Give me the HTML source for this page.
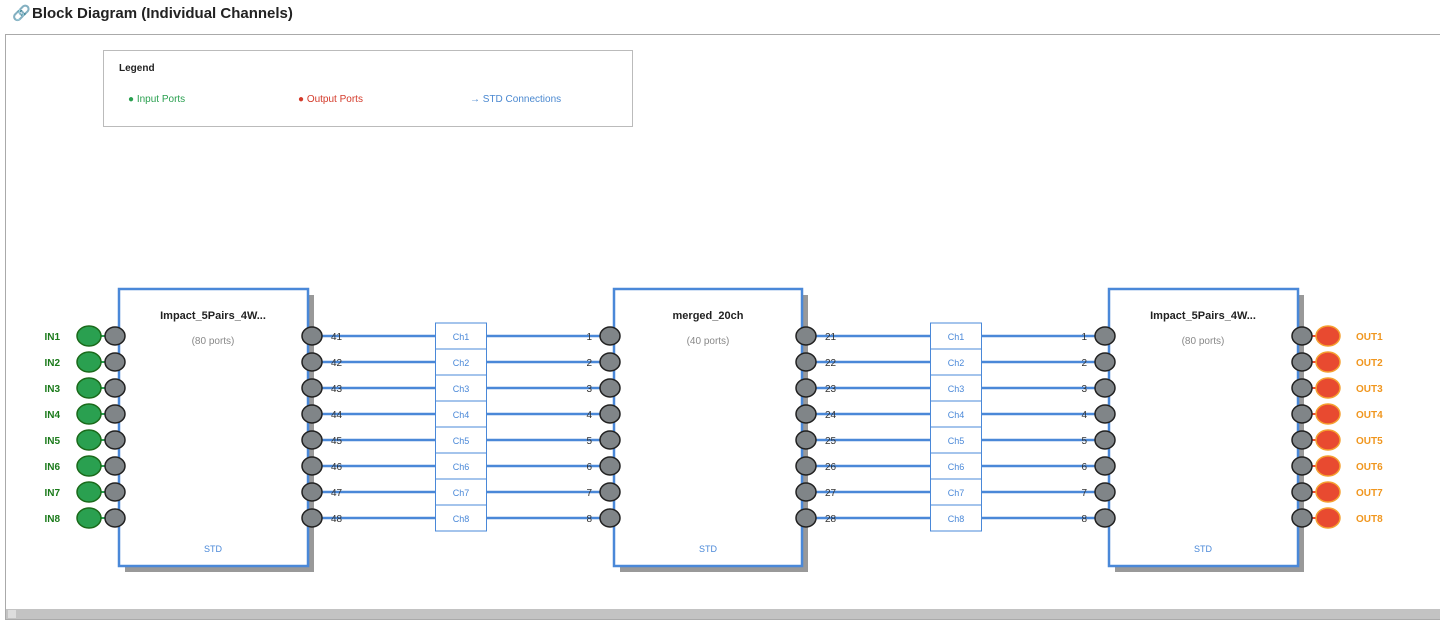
<!DOCTYPE html>
<html><head><meta charset="utf-8"><style>
body{margin:0;background:#fff;font-family:"Liberation Sans",sans-serif;}
</style></head><body>
<svg width="1440" height="622" xmlns="http://www.w3.org/2000/svg" font-family="Liberation Sans, sans-serif">
<text x="12" y="18" font-size="15" font-weight="bold" fill="#222">🔗</text>
<text x="32" y="18" font-size="15" font-weight="bold" fill="#222">Block Diagram (Individual Channels)</text>
<rect x="5.5" y="34.5" width="1440" height="585" fill="#fff" stroke="#aaa"/>
<rect x="6" y="609" width="1434" height="10" fill="#c3c3c3"/>
<rect x="8" y="610" width="8" height="8" fill="#ddd"/>
<rect x="103.5" y="50.5" width="529" height="76" fill="#fff" stroke="#bbb"/>
<text x="119" y="71" font-size="10" font-weight="bold" fill="#222">Legend</text>
<text x="128" y="102" font-size="10" fill="#2aa050">● Input Ports</text>
<text x="298" y="102" font-size="10" fill="#d43a2a">● Output Ports</text>
<text x="470" y="102" font-size="10" fill="#4a88d0">→ STD Connections</text>
<g id="b">
<rect x="125" y="295" width="189" height="277" fill="#999"/>
<rect x="119" y="289" width="189" height="277" fill="#fff" stroke="#4a88d8" stroke-width="2.5"/>
<rect x="620" y="295" width="188" height="277" fill="#999"/>
<rect x="614" y="289" width="188" height="277" fill="#fff" stroke="#4a88d8" stroke-width="2.5"/>
<rect x="1115" y="295" width="189" height="277" fill="#999"/>
<rect x="1109" y="289" width="189" height="277" fill="#fff" stroke="#4a88d8" stroke-width="2.5"/>
</g>
<g font-size="11" font-weight="bold" fill="#222" text-anchor="middle">
<text x="213" y="319">Impact_5Pairs_4W...</text>
<text x="708" y="319">merged_20ch</text>
<text x="1203" y="319">Impact_5Pairs_4W...</text>
</g>
<g font-size="10" fill="#888" text-anchor="middle">
<text x="213" y="344">(80 ports)</text><text x="708" y="344">(40 ports)</text><text x="1203" y="344">(80 ports)</text>
</g>
<g font-size="9" fill="#4a88d8" text-anchor="middle">
<text x="213" y="552">STD</text><text x="708" y="552">STD</text><text x="1203" y="552">STD</text>
</g>
<defs>
<g id="row">
<line x1="312" y1="0" x2="605" y2="0" stroke="#4a88d8" stroke-width="2.5"/>
<line x1="806" y1="0" x2="1100" y2="0" stroke="#4a88d8" stroke-width="2.5"/>
<line x1="101" y1="0" x2="115" y2="0" stroke="#2aa050" stroke-width="2"/>
<line x1="1302" y1="0" x2="1316" y2="0" stroke="#e84a30" stroke-width="2"/>
<ellipse cx="89" cy="0" rx="12" ry="10" fill="#2aa050" stroke="#1a6a1a" stroke-width="1.5"/>
<ellipse cx="1328" cy="0" rx="12" ry="10" fill="#e84a30" stroke="#f5a030" stroke-width="1.5"/>
<ellipse cx="115" cy="0" rx="10" ry="9" fill="#808588" stroke="#222" stroke-width="1.5"/>
<ellipse cx="312" cy="0" rx="10" ry="9" fill="#808588" stroke="#222" stroke-width="1.5"/>
<ellipse cx="610" cy="0" rx="10" ry="9" fill="#808588" stroke="#222" stroke-width="1.5"/>
<ellipse cx="806" cy="0" rx="10" ry="9" fill="#808588" stroke="#222" stroke-width="1.5"/>
<ellipse cx="1105" cy="0" rx="10" ry="9" fill="#808588" stroke="#222" stroke-width="1.5"/>
<ellipse cx="1302" cy="0" rx="10" ry="9" fill="#808588" stroke="#222" stroke-width="1.5"/>
<rect x="435.5" y="-13" width="51" height="26" fill="#fff" stroke="#4a88d8"/>
<rect x="930.5" y="-13" width="51" height="26" fill="#fff" stroke="#4a88d8"/>
</g>
</defs>
<use href="#row" y="336"/><use href="#row" y="362"/><use href="#row" y="388"/><use href="#row" y="414"/>
<use href="#row" y="440"/><use href="#row" y="466"/><use href="#row" y="492"/><use href="#row" y="518"/>
<g font-size="9" fill="#4a88d8" text-anchor="middle">
<text x="461" y="340">Ch1</text><text x="461" y="366">Ch2</text><text x="461" y="392">Ch3</text><text x="461" y="418">Ch4</text>
<text x="461" y="444">Ch5</text><text x="461" y="470">Ch6</text><text x="461" y="496">Ch7</text><text x="461" y="522">Ch8</text>
<text x="956" y="340">Ch1</text><text x="956" y="366">Ch2</text><text x="956" y="392">Ch3</text><text x="956" y="418">Ch4</text>
<text x="956" y="444">Ch5</text><text x="956" y="470">Ch6</text><text x="956" y="496">Ch7</text><text x="956" y="522">Ch8</text>
</g>
<g font-size="10" fill="#333">
<text x="331" y="340">41</text><text x="331" y="366">42</text><text x="331" y="392">43</text><text x="331" y="418">44</text>
<text x="331" y="444">45</text><text x="331" y="470">46</text><text x="331" y="496">47</text><text x="331" y="522">48</text>
<text x="825" y="340">21</text><text x="825" y="366">22</text><text x="825" y="392">23</text><text x="825" y="418">24</text>
<text x="825" y="444">25</text><text x="825" y="470">26</text><text x="825" y="496">27</text><text x="825" y="522">28</text>
</g>
<g font-size="10" fill="#333" text-anchor="end">
<text x="592" y="340">1</text><text x="592" y="366">2</text><text x="592" y="392">3</text><text x="592" y="418">4</text>
<text x="592" y="444">5</text><text x="592" y="470">6</text><text x="592" y="496">7</text><text x="592" y="522">8</text>
<text x="1087" y="340">1</text><text x="1087" y="366">2</text><text x="1087" y="392">3</text><text x="1087" y="418">4</text>
<text x="1087" y="444">5</text><text x="1087" y="470">6</text><text x="1087" y="496">7</text><text x="1087" y="522">8</text>
</g>
<g font-size="10" font-weight="bold" fill="#1a7a1a" text-anchor="end">
<text x="60" y="340">IN1</text><text x="60" y="366">IN2</text><text x="60" y="392">IN3</text><text x="60" y="418">IN4</text>
<text x="60" y="444">IN5</text><text x="60" y="470">IN6</text><text x="60" y="496">IN7</text><text x="60" y="522">IN8</text>
</g>
<g font-size="10" font-weight="bold" fill="#f0961e">
<text x="1356" y="340">OUT1</text><text x="1356" y="366">OUT2</text><text x="1356" y="392">OUT3</text><text x="1356" y="418">OUT4</text>
<text x="1356" y="444">OUT5</text><text x="1356" y="470">OUT6</text><text x="1356" y="496">OUT7</text><text x="1356" y="522">OUT8</text>
</g>
</svg>
</body></html>
